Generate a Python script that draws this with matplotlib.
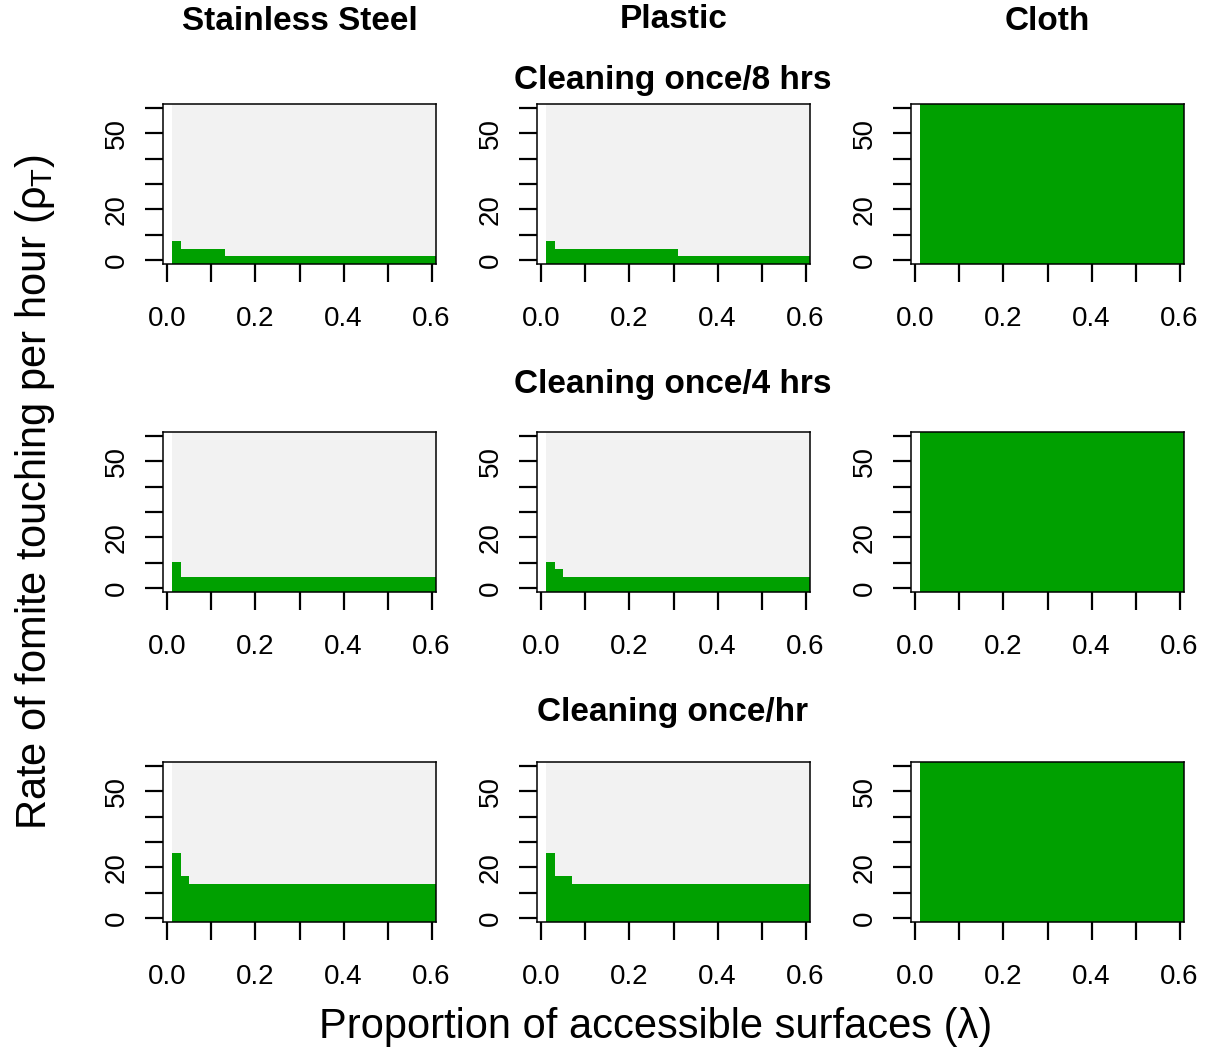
import numpy as np
import matplotlib
matplotlib.use("Agg")
import matplotlib.pyplot as plt
from matplotlib.colors import ListedColormap

plt.rcParams['font.family'] = ['Liberation Sans', 'DejaVu Sans']
plt.rcParams['mathtext.fontset'] = 'custom'
plt.rcParams['mathtext.rm'] = 'Liberation Sans'
plt.rcParams['mathtext.it'] = 'Liberation Sans'

# grid of the image: proportion of accessible surfaces and touching rate
lam = np.linspace(0, 0.6, 31)
rho = np.linspace(0, 60, 21)

surfaces = ["Stainless Steel", "Plastic", "Cloth"]
cleaning = ["Cleaning once/8 hrs", "Cleaning once/4 hrs", "Cleaning once/hr"]

# highest touching rate (cell centre) still shaded green, for lambda = 0.02 ... 0.6
# (lambda = 0 has no value)
steel_8h = [6] + [3] * 5 + [0] * 24
plastic_8h = [6] + [3] * 14 + [0] * 15
cloth_8h = [60] * 30
steel_4h = [9] + [3] * 29
plastic_4h = [9, 6] + [3] * 28
cloth_4h = [60] * 30
steel_1h = [24, 15] + [12] * 28
plastic_1h = [24, 15, 15] + [12] * 27
cloth_1h = [60] * 30

limits = [[steel_8h, plastic_8h, cloth_8h],
          [steel_4h, plastic_4h, cloth_4h],
          [steel_1h, plastic_1h, cloth_1h]]

cmap = ListedColormap(["#F2F2F2", "#00A000"])

W, H = 1207, 1053
fig = plt.figure(figsize=(W / 100, H / 100), dpi=100)

col_left = [163, 537, 911]
row_top = [104, 432, 762]
pw, ph = 273, 160

# cell edges
dx = lam[1] - lam[0]
dy = rho[1] - rho[0]
xe = np.append(lam - dx / 2, lam[-1] + dx / 2)
ye = np.append(rho - dy / 2, rho[-1] + dy / 2)

for r in range(3):
	for c in range(3):
		ax = fig.add_axes([col_left[c] / W, 1 - (row_top[r] + ph) / H, pw / W, ph / H])
		lim = np.array([np.nan] + limits[r][c])
		z = (rho[:, None] <= lim[None, :]).astype(float)
		z[:, 0] = np.nan
		ax.pcolormesh(xe, ye, z, cmap=cmap, vmin=0, vmax=1, shading="flat")
		ax.set_xlim(xe[0], xe[-1])
		ax.set_ylim(ye[0], ye[-1])
		ax.set_xticks(np.arange(0, 0.61, 0.1))
		ax.set_xticklabels(["0.0", "", "0.2", "", "0.4", "", "0.6"])
		ax.set_yticks(np.arange(0, 61, 10))
		ax.set_yticklabels(["0", "", "20", "", "", "50", ""], rotation=90, va="center")
		ax.tick_params(direction="out", length=13, width=1.6, labelsize=20)
		ax.tick_params(axis="x", pad=17)
		ax.tick_params(axis="y", pad=11)
		for s in ax.spines.values():
			s.set_linewidth(1.1)

for c, y in enumerate([22, 19, 22]):
	x = (col_left[c] + pw / 2) / W
	fig.text(x, 1 - y / H, surfaces[c], ha="center", va="center",
			 fontsize=24, fontweight="bold")

for r, y in enumerate([80, 384, 712]):
	fig.text(673 / W, 1 - y / H, cleaning[r], ha="center", va="center",
			 fontsize=24, fontweight="bold")

fig.text(35 / W, 1 - 492 / H, r"Rate of fomite touching per hour ($\rho_{T}$)",
		 rotation=90, ha="center", va="center", fontsize=30)
fig.text(656 / W, 1 - 1027 / H, "Proportion of accessible surfaces (λ)",
		 ha="center", va="center", fontsize=30)

fig.savefig("out.png", dpi=100)
